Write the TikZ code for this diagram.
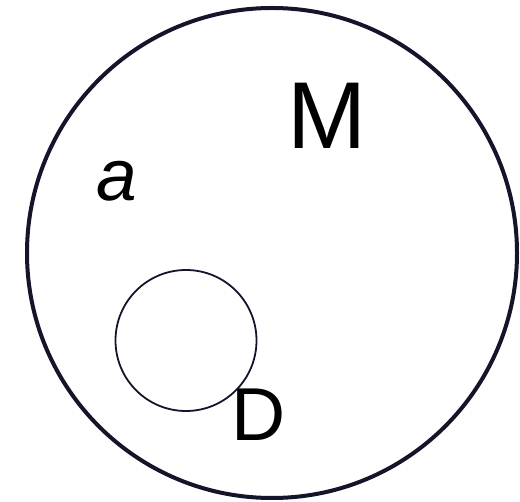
\documentclass[tikz,border=0pt]{standalone}
\usepackage{fontspec}
\setmainfont{Liberation Sans}
\usepackage{xcolor}
\definecolor{myline}{HTML}{14142A}

\begin{document}
\begin{tikzpicture}[x=1pt,y=-1pt]
			\tikzset{% styles for the sets and their labels
				bigsetnode/.style={circle,minimum size=490pt,inner sep=0pt,draw=myline,line width=4pt},
				smallsetnode/.style={circle,minimum size=141pt,inner sep=0pt,draw=myline,line width=1.8pt},
				labelnode/.style={inner sep=0pt,text=black}}
			\useasboundingbox (0,0) rectangle (520,502);
			\node[bigsetnode] (M) at (272,253) {};
			\node[smallsetnode] (D) at (186,340.5) {};
	
			\node[labelnode,font=\fontsize{95}{95}\selectfont] (Mlabel) at (327,116) {M};
			\node[labelnode,font=\fontsize{73}{73}\selectfont\itshape] (alabel) at (117,181) {a};
			\node[labelnode,font=\fontsize{75}{75}\selectfont] (Dlabel) at (258.5,415) {D};
		\end{tikzpicture}
\end{document}
